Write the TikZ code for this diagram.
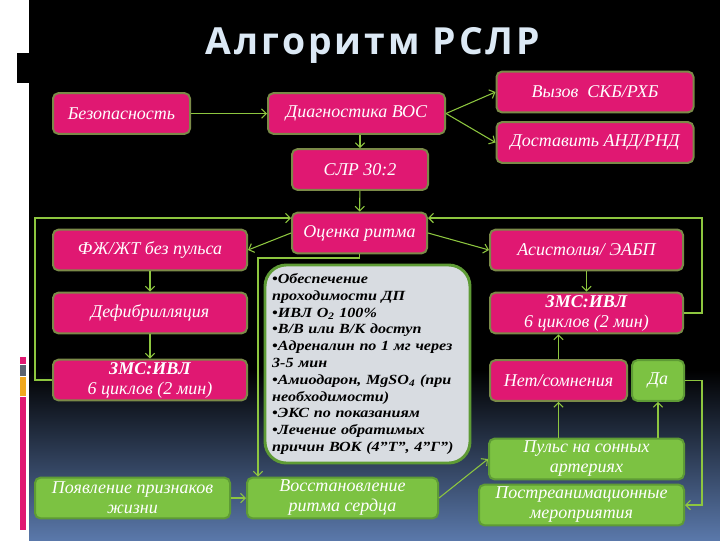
\documentclass[tikz,border=0pt]{standalone}
\usepackage{fontspec}
\setmainfont{Liberation Serif}
\newfontfamily\titlefont[LetterSpace=8]{Open Sans}
\newfontfamily\merfont[FakeStretch=1.15]{Liberation Serif}
\usetikzlibrary{arrows.meta}
\definecolor{malina}{HTML}{E01872}
\definecolor{oliva}{HTML}{7B8A48}
\definecolor{trava}{HTML}{7CC242}
\definecolor{travabordo}{HTML}{5E9B35}
\definecolor{linia}{HTML}{8DC63F}
\definecolor{seryj}{HTML}{D8DCE1}
\definecolor{zagolovok}{HTML}{DCE9F5}
\definecolor{fon}{HTML}{5A78AA}
\definecolor{oranzh}{HTML}{F0A81E}
\definecolor{polosa}{HTML}{5A6270}

\begin{document}
\begin{tikzpicture}[x=0.75pt, y=-0.75pt,
            box/.style={draw=oliva, line width=1.5pt, rounded corners=4pt, fill=malina,
                    text=white, font=\fontsize{13.5}{15}\selectfont\itshape,
                    minimum height=30.5pt, inner sep=0pt, align=center},
            okbox/.style={box, draw=travabordo, fill=trava},
            strelka/.style={draw=linia, line width=0.8pt,
                    -{Straight Barb[length=3.5pt,width=7pt]}}
        ]
        % fon slajda
        \useasboundingbox (0,0) rectangle (720,540);
        \fill[white] (0,0) rectangle (720,540);
        \fill[black] (29,0) rectangle (720,370);
        \shade[top color=black, bottom color=fon] (29,370) rectangle (720,540);
        \fill[black] (17,53) rectangle (29,83);
        \fill[malina] (20,357) rectangle (26,364);
        \fill[polosa] (20,365) rectangle (26,376);
        \fill[oranzh] (20,377) rectangle (26,396);
        \fill[malina] (20,397) rectangle (26,530);

        \node[text=zagolovok, font=\titlefont\bfseries\fontsize{28}{30}\selectfont]
        (tit) at (373,45) {Алгоритм РСЛР};

        % Koordinaty v pikselyakh slajda
        \node[box, minimum width=102.75pt] (bez)  at (121.5,113.5) {Безопасность};
        \node[box, minimum width=132.75pt] (diag) at (356.5,113.5) {Диагностика ВОС};
        \node[box, minimum width=147.75pt] (vyz)  at (595,92)      {Вызов\ \ СКБ/РХБ};
        \node[box, minimum width=147.75pt] (dost) at (595,142.5)   {Доставить АНД/РНД};
        \node[box, minimum width=102pt]    (slr)  at (360,169.5)   {СЛР 30:2};
        \node[box, minimum width=101.25pt] (ocen) at (359.5,233)   {Оценка ритма};
        \node[box, minimum width=145.5pt]  (fzh)  at (150,250)     {ФЖ/ЖТ без пульса};
        \node[box, minimum width=144.75pt] (asis) at (586.5,250)   {Асистолия/ ЭАБП};
        \node[box, minimum width=145.5pt]  (defib) at (150,313)    {Дефибрилляция};
        \node[box, minimum width=145.5pt]  (zmsL) at (150,380)     {\bfseries ЗМС:ИВЛ\\6 циклов (2 мин)};
        \node[box, minimum width=144.75pt] (zmsR) at (586.5,313)   {\bfseries ЗМС:ИВЛ\\6 циклов (2 мин)};
        \node[box, minimum width=102.75pt] (net)  at (558.5,380.5) {Нет/сомнения};
        \node[okbox, minimum width=39pt]   (da)   at (658,380.5)   {Да};
        \node[okbox, minimum width=146.25pt] (puls) at (586.5,459) {Пульс на сонных\\артериях};
        \node[okbox, minimum width=153.75pt] (post) at (581.5,505) {Постреанимационные\\мероприятия};
        \node[okbox, minimum width=146.25pt] (pojav) at (132.5,498) {Появление признаков\\жизни};
        \node[okbox, minimum width=143.25pt] (vosst) at (342.5,498) {Восстановление\\ритма сердца};

        \node[draw=travabordo, line width=2.2pt, rounded corners=16pt, fill=seryj,
            minimum width=153.75pt, minimum height=148.5pt, inner xsep=5pt,
            text width=143pt, align=left,
            font=\merfont\fontsize{10.5}{12.6}\selectfont\bfseries\itshape]
        (mery) at (367.5,364) {•Обеспечение\\проходимости ДП\\•ИВЛ O\textsubscript{2} 100\%\\
            •В/В или В/К доступ\\•Адреналин по 1 мг через\\3-5 мин\\
            •Амиодарон, MgSO\textsubscript{4} (при\\необходимости)\\
            •ЭКС по показаниям\\•Лечение обратимых\\причин ВОК (4”Т”, 4”Г”)};

        \coordinate (kl) at (35,218);
        \coordinate (kr) at (702,218);
        \coordinate (kd) at (702,505);
        \coordinate (kg) at (258,258);

        \draw[strelka] (bez) -- (diag);
        \draw[strelka] (diag.east) -- (vyz.west);
        \draw[strelka] (diag.east) -- (dost.west);
        \draw[strelka] (diag.south -| slr.north) -- (slr.north);
        \draw[strelka] (slr) -- (ocen);
        \draw[strelka] (ocen.west) -- (fzh.east);
        \draw[strelka] (ocen.east) -- (asis.west);
        \draw[strelka] (fzh) -- (defib);
        \draw[strelka] (defib) -- (zmsL);
        \draw[strelka] (asis) -- (zmsR);
        \draw[strelka] (zmsL.west) -| (kl) -- (kl -| ocen.west);
        \draw[strelka] (zmsR.east) -| (kr) -- (kr -| ocen.east);
        \draw[strelka] (net.north) -- (net.north |- zmsR.south);
        \draw[strelka] (net.south |- puls.north) -- (net.south);
        \draw[strelka] (da.south |- puls.north) -- (da.south);
        \draw[strelka] (da.east) -| (kd) -- (post.east);
        \draw[strelka] (ocen.south) |- (kg) -- (kg |- vosst.north);
        \draw[strelka] (pojav) -- (vosst);
        \draw[strelka] (vosst.east) -- (puls.west);
    \end{tikzpicture}
\end{document}
